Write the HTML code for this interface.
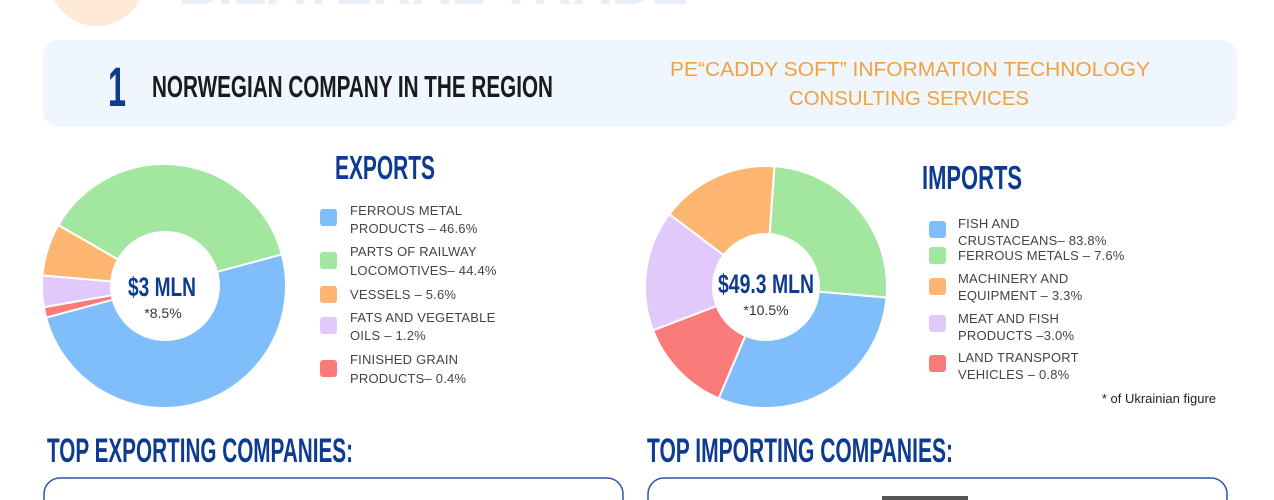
<!DOCTYPE html>
<html><head><meta charset="utf-8">
<style>
html,body{margin:0;padding:0;background:#fff;width:1274px;height:500px;overflow:hidden}
svg{display:block}
svg text{font-family:"Liberation Sans",sans-serif}
</style></head><body>
<svg id="s" width="1274" height="500" viewBox="0 0 1274 500" xmlns="http://www.w3.org/2000/svg">
<circle cx="97" cy="-22" r="48" fill="#fde9d6"/>
<text x="178" y="4" font-size="44" font-weight="bold" fill="#e8eef8" textLength="510" lengthAdjust="spacingAndGlyphs">BILATERAL TRADE</text>
<rect x="43" y="40" width="1194" height="87" rx="16" fill="#f0f6fd"/>
<text x="108" y="106" font-size="56" font-weight="bold" fill="#0d3b91" textLength="18" lengthAdjust="spacingAndGlyphs">1</text>
<text x="152" y="97" font-size="31" font-weight="bold" fill="#1b1b1b" textLength="401" lengthAdjust="spacingAndGlyphs">NORWEGIAN COMPANY IN THE REGION</text>
<text x="910" y="76" font-size="20" fill="#f2a13f" text-anchor="middle" textLength="480" lengthAdjust="spacingAndGlyphs">PE“CADDY SOFT” INFORMATION TECHNOLOGY</text>
<text x="909" y="105" font-size="20" fill="#f2a13f" text-anchor="middle" textLength="240" lengthAdjust="spacingAndGlyphs">CONSULTING SERVICES</text>

<g id="exp"></g><g id="imp"></g>
<circle cx="165" cy="286" r="55" fill="#fff"/>
<circle cx="766" cy="287" r="54" fill="#fff"/>
<text x="128" y="296" font-size="27" font-weight="bold" fill="#0d3b91" textLength="68" lengthAdjust="spacingAndGlyphs">$3 MLN</text>
<text x="163" y="318" font-size="14" fill="#333" text-anchor="middle">*8.5%</text>
<text x="718" y="293" font-size="27" font-weight="bold" fill="#0d3b91" textLength="96" lengthAdjust="spacingAndGlyphs">$49.3 MLN</text>
<text x="766" y="315" font-size="14" fill="#333" text-anchor="middle">*10.5%</text>

<text x="335" y="179" font-size="33" font-weight="bold" fill="#0d3b91" textLength="100" lengthAdjust="spacingAndGlyphs">EXPORTS</text>
<text x="922" y="189" font-size="33" font-weight="bold" fill="#0d3b91" textLength="100" lengthAdjust="spacingAndGlyphs">IMPORTS</text>
<g font-size="13" fill="#444" letter-spacing="0.2">
<rect x="320" y="209" width="17" height="17" rx="3" fill="#80bdfb"/>
<text x="350" y="215">FERROUS METAL</text><text x="350" y="233">PRODUCTS – 46.6%</text>
<rect x="320" y="252" width="17" height="17" rx="3" fill="#a2e6a0"/>
<text x="350" y="256">PARTS OF RAILWAY</text><text x="350" y="275">LOCOMOTIVES– 44.4%</text>
<rect x="320" y="286" width="17" height="17" rx="3" fill="#fdb672"/>
<text x="350" y="299">VESSELS – 5.6%</text>
<rect x="320" y="317" width="17" height="17" rx="3" fill="#e2c9fb"/>
<text x="350" y="322">FATS AND VEGETABLE</text><text x="350" y="340">OILS – 1.2%</text>
<rect x="320" y="360" width="17" height="17" rx="3" fill="#fb7b7b"/>
<text x="350" y="364">FINISHED GRAIN</text><text x="350" y="383">PRODUCTS– 0.4%</text>

<rect x="929" y="221" width="17" height="17" rx="3" fill="#80bdfb"/>
<text x="958" y="228">FISH AND</text><text x="958" y="245">CRUSTACEANS– 83.8%</text>
<rect x="929" y="247" width="17" height="17" rx="3" fill="#a2e6a0"/>
<text x="958" y="260">FERROUS METALS – 7.6%</text>
<rect x="929" y="278" width="17" height="17" rx="3" fill="#fdb672"/>
<text x="958" y="283">MACHINERY AND</text><text x="958" y="300">EQUIPMENT – 3.3%</text>
<rect x="929" y="315" width="17" height="17" rx="3" fill="#e2c9fb"/>
<text x="958" y="323">MEAT AND FISH</text><text x="958" y="340">PRODUCTS –3.0%</text>
<rect x="929" y="355" width="17" height="17" rx="3" fill="#fb7b7b"/>
<text x="958" y="362">LAND TRANSPORT</text><text x="958" y="379">VEHICLES – 0.8%</text>
</g>
<text x="1216" y="403" font-size="13" fill="#222" text-anchor="end">* of Ukrainian figure</text>

<text x="47" y="462" font-size="34" font-weight="bold" fill="#0d3b91" textLength="306" lengthAdjust="spacingAndGlyphs">TOP EXPORTING COMPANIES:</text>
<text x="647" y="462" font-size="34" font-weight="bold" fill="#0d3b91" textLength="306" lengthAdjust="spacingAndGlyphs">TOP IMPORTING COMPANIES:</text>
<path d="M44,500 V494 A16,16 0 0 1 60,478 H607 A16,16 0 0 1 623,494 V500" fill="none" stroke="#2d56a8" stroke-width="1.5"/>
<path d="M648,500 V494 A16,16 0 0 1 664,478 H1211 A16,16 0 0 1 1227,494 V500" fill="none" stroke="#2d56a8" stroke-width="1.5"/>
<rect x="882" y="496" width="86" height="4" fill="#555"/>
</svg>
<script>
function slices(g,cx,cy,r,arr){
  var el=document.getElementById(g),h='';
  for(var i=0;i<arr.length;i++){
    var a0=arr[i][0]*Math.PI/180,a1=arr[i][1]*Math.PI/180;
    var x0=cx+r*Math.cos(a0),y0=cy+r*Math.sin(a0),x1=cx+r*Math.cos(a1),y1=cy+r*Math.sin(a1);
    var lg=(arr[i][1]-arr[i][0])>180?1:0;
    h+='<path d="M'+cx+','+cy+' L'+x0+','+y0+' A'+r+','+r+' 0 '+lg+' 1 '+x1+','+y1+' Z" fill="'+arr[i][2]+'" stroke="#fff" stroke-width="2"/>';
  }
  el.innerHTML=h;
}
slices('exp',164,286,122,[[-15,165,'#80bdfb'],[165,170,'#fb7b7b'],[170,185,'#e2c9fb'],[185,210,'#fdb672'],[210,345,'#a2e6a0']]);
slices('imp',766,287,121,[[5,113,'#80bdfb'],[113,159,'#fb7b7b'],[159,217,'#e2c9fb'],[217,274,'#fdb672'],[274,365,'#a2e6a0']]);
</script>
</body></html>
